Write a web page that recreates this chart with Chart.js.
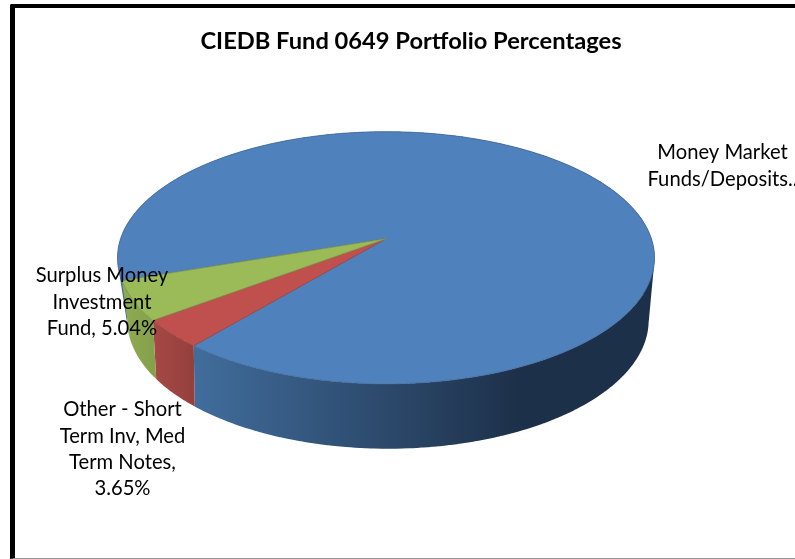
<!DOCTYPE html>
<html>
<head>
<meta charset="utf-8">
<script src="https://cdn.jsdelivr.net/npm/chart.js@4"></script>
<style>
  html, body { margin: 0; padding: 0; background: white; overflow: hidden; }
  #page { position: relative; width: 795px; height: 559px; overflow: hidden; }
  #frame { position: absolute; left: 10px; top: 4px; width: 800px; height: 550px;
           border-left: 5px solid black; border-top: 4px solid black; border-bottom: 1px solid #999;
           border-top-left-radius: 2px; }
  canvas { position: absolute; left: 0; top: 0; }
</style>
</head>
<body>
<div id="page">
  <div id="frame"></div>
  <canvas id="pie" width="795" height="559"></canvas>
</div>
<script>
const titleText = 'CIEDB Fund 0649 Portfolio Percentages'
const categories = ['Money Market Funds/Deposits', 'Other - Short Term Inv, Med Term Notes', 'Surplus Money Investment Fund']
const percentages = [91.31, 3.65, 5.04]
const topColors = ['#4f81bd', '#c0504d', '#9bbb59']
const edgeColors = ['#41699a', '#9a4341', '#7d9848']
const wallFrom = ['#416d9d', '#a64845', '#8fab52']
const wallTo = ['#1d3049', '#933f3d', '#849f4b']
const wallGradientX = [[192, 520], [155, 197], [120, 160]]

const labelLines = [
    ['Money Market', 'Funds/Deposits..'],
    ['Other - Short', 'Term Inv, Med', 'Term Notes,', '3.65%'],
    ['Surplus Money', 'Investment', 'Fund, 5.04%']
]
const labelX = [722.5, 122.5, 102]
const labelY = [[159, 186], [416, 443, 469, 495], [282, 309, 335]]

// 3d view, the pie seen in perspective. Values are relative to the arc radius
const offsetX = -25
const baseRadius = 177
const topFace = { dx: 0, dy: 0, a: 123, b: 265, k: 0.151 }
const bottomFace = { dx: 2, dy: 56, a: 123, b: 255, k: 0.2 }

function project(arc, face, angle) {
    const radius = arc.outerRadius
    const u = Math.cos(angle)
    const v = Math.sin(angle)
    const d = 1 - face.k * v
    return {
        x: arc.x + offsetX + face.dx + (face.b / baseRadius) * radius * u / d,
        y: arc.y + face.dy + (face.a / baseRadius) * radius * v / d
    }
}

// quads must all wind the same way or the shared path cancels at the sides
function addQuad(ctx, pts) {
    let area = 0
    pts.forEach(function (p, i) {
        const n = pts[(i + 1) % pts.length]
        area += p.x * n.y - n.x * p.y
    })
    const list = area < 0 ? pts.slice().reverse() : pts
    ctx.moveTo(list[0].x, list[0].y)
    ctx.lineTo(list[1].x, list[1].y)
    ctx.lineTo(list[2].x, list[2].y)
    ctx.lineTo(list[3].x, list[3].y)
    ctx.closePath()
}

const pie3d = {
    id: 'pie3d',
    beforeDatasetsDraw(chart) {
        const ctx = chart.ctx
        const arcs = chart.getDatasetMeta(0).data
        const step = Math.PI / 180

        // side walls first, one path per slice so the strips leave no seams
        arcs.forEach(function (arc, i) {
            const grad = ctx.createLinearGradient(wallGradientX[i][0], 0, wallGradientX[i][1], 0)
            grad.addColorStop(0, wallFrom[i])
            grad.addColorStop(1, wallTo[i])
            ctx.fillStyle = grad
            ctx.beginPath()
            for (let a = arc.startAngle; a < arc.endAngle; a += step) {
                const b = Math.min(a + step * 1.5, arc.endAngle)
                addQuad(ctx, [
                    project(arc, topFace, a),
                    project(arc, topFace, b),
                    project(arc, bottomFace, b),
                    project(arc, bottomFace, a)
                ])
            }
            ctx.fill()
        })

        // then the top of the slices
        arcs.forEach(function (arc, i) {
            ctx.beginPath()
            ctx.moveTo(arc.x + offsetX, arc.y)
            for (let a = arc.startAngle; a < arc.endAngle; a += step / 2) {
                const p = project(arc, topFace, a)
                ctx.lineTo(p.x, p.y)
            }
            const last = project(arc, topFace, arc.endAngle)
            ctx.lineTo(last.x, last.y)
            ctx.closePath()
            ctx.fillStyle = topColors[i]
            ctx.fill()
            ctx.strokeStyle = edgeColors[i]
            ctx.lineWidth = 0.8
            ctx.stroke()
        })
        return false
    },
    afterDraw(chart) {
        const ctx = chart.ctx
        ctx.save()
        ctx.font = '20.2px Lato'
        ctx.fillStyle = '#000000'
        ctx.textAlign = 'center'
        labelLines.forEach(function (lines, i) {
            lines.forEach(function (line, j) {
                ctx.fillText(line, labelX[i], labelY[i][j])
            })
        })
        ctx.restore()
    }
}

new Chart(document.getElementById('pie'), {
    type: 'pie',
    plugins: [pie3d],
    data: {
        labels: categories,
        datasets: [{
            data: percentages,
            backgroundColor: topColors,
            borderColor: edgeColors
        }]
    },
    options: {
        responsive: false,
        animation: false,
        rotation: 251.1,
        layout: { padding: { left: 27, top: 27, bottom: 142 } },
        plugins: {
            legend: { display: false },
            tooltip: { enabled: false },
            title: {
                display: true,
                text: titleText,
                color: '#000000',
                font: { family: 'Lato', size: 23.7, weight: 'bold' },
                padding: { top: 0, bottom: 5 }
            }
        }
    }
})
</script>
</body>
</html>
